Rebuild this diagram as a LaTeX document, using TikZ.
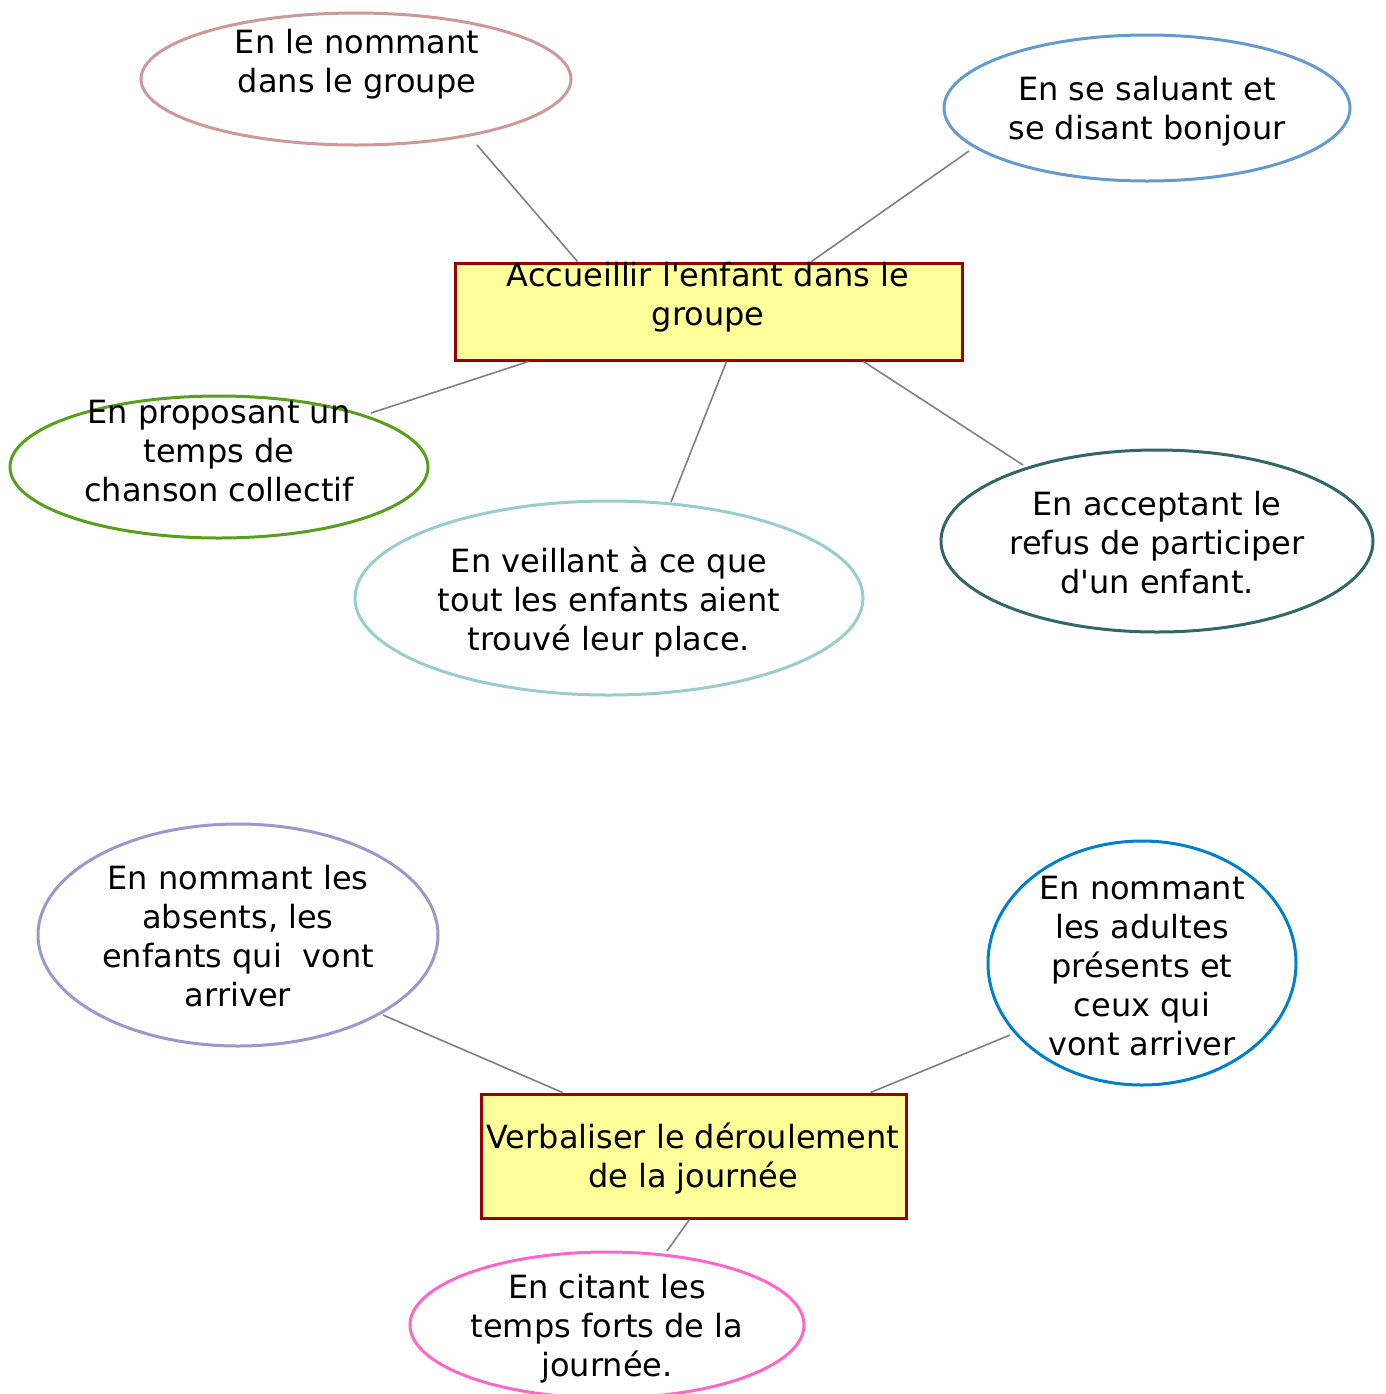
\documentclass[tikz,border=0pt]{standalone}
\usepackage{fontspec}
\newfontfamily\dvsans{DejaVu Sans}
\usetikzlibrary{shapes.geometric,calc}
\definecolor{boxfill}{HTML}{FFFF99}
\definecolor{boxdraw}{HTML}{990000}
\definecolor{cA}{HTML}{CC9999}
\definecolor{cB}{HTML}{6699CC}
\definecolor{cC}{HTML}{5A9E1E}
\definecolor{cD}{HTML}{99CCCC}
\definecolor{cE}{HTML}{336666}
\definecolor{cF}{HTML}{9999CC}
\definecolor{cG}{HTML}{0080CC}
\definecolor{cH}{HTML}{FF66CC}
\definecolor{linkgray}{HTML}{808080}
\tikzset{
  oval/.style={ellipse, draw=#1, line width=1.5pt, inner sep=0pt, fill=white},
  mainbox/.style={rectangle, draw=boxdraw, fill=boxfill, line width=1.5pt, inner sep=0pt},
  txt/.style={align=center, inner sep=0pt, font=\dvsans\fontsize{16}{19.5}\selectfont},
  link/.style={draw=linkgray, line width=0.8pt}
}
\begin{document}
\begin{tikzpicture}[x=0.5pt,y=-0.5pt]
\useasboundingbox (0,0) rectangle (1386,1394);
% main boxes
\node[mainbox, minimum width=253.5pt, minimum height=48.5pt] (b1) at (708.5,311.5) {};
\node[mainbox, minimum width=212.5pt, minimum height=62pt] (b2) at (693.5,1156) {};
% ellipses
\node[oval=cA, minimum width=215pt, minimum height=66pt] (e1) at (356,79) {};
\node[oval=cB, minimum width=203pt, minimum height=73pt] (e2) at (1147,108) {};
\node[oval=cC, minimum width=209pt, minimum height=71pt] (e3) at (219,467) {};
\node[oval=cD, minimum width=254pt, minimum height=97pt] (e4) at (609,598) {};
\node[oval=cE, minimum width=216pt, minimum height=91pt] (e5) at (1157,541) {};
\node[oval=cF, minimum width=200pt, minimum height=111pt] (e6) at (238,935) {};
\node[oval=cG, minimum width=154pt, minimum height=122pt] (e7) at (1142,963) {};
\node[oval=cH, minimum width=197pt, minimum height=73pt] (e8) at (607,1325) {};
% texts
\node[txt] (tb1) at (708,297) {Accueillir l'enfant dans le\\groupe};
\node[txt] (tb2) at (693,1159) {Verbaliser le déroulement\\de la journée};
\node[txt] (t1) at (357,64) {En le nommant\\dans le groupe};
\node[txt] (t2) at (1147,111) {En se saluant et\\se disant bonjour};
\node[txt] (t3) at (219,451) {En proposant un\\temps de\\chanson collectif};
\node[txt] (t4) at (609,602) {En veillant à ce que\\tout les enfants aient\\trouvé leur place.};
\node[txt] (t5) at (1157,543) {En acceptant le\\refus de participer\\d'un enfant.};
\node[txt] (t6) at (238,936) {En nommant les\\absents, les\\enfants qui\ \ vont\\arriver};
\node[txt] (t7) at (1142,966) {En nommant\\les adultes\\présents et\\ceux qui\\vont arriver};
\node[txt] (t8) at (607,1329) {En citant les\\temps forts de la\\journée.};
% connectors
\draw[link] ($(e1)+(121,66)$) -- ($(b1.north west)+(124,0)$);
\draw[link] ($(e2)+(-178,43)$) -- ($(b1.north west)+(358,0)$);
\draw[link] ($(b1.south west)+(75,0)$) -- ($(e3)+(152,-54)$);
\draw[link] ($(b1.south west)+(273,0)$) -- ($(e4)+(62,-96)$);
\draw[link] ($(b1.south west)+(410,0)$) -- ($(e5)+(-134,-76)$);
\draw[link] ($(e6)+(145,80)$) -- ($(b2.north west)+(83,0)$);
\draw[link] ($(e7)+(-132,72)$) -- ($(b2.north west)+(391,0)$);
\draw[link] ($(b2.south west)+(210,0)$) -- ($(e8)+(60,-74)$);
\end{tikzpicture}
\end{document}
